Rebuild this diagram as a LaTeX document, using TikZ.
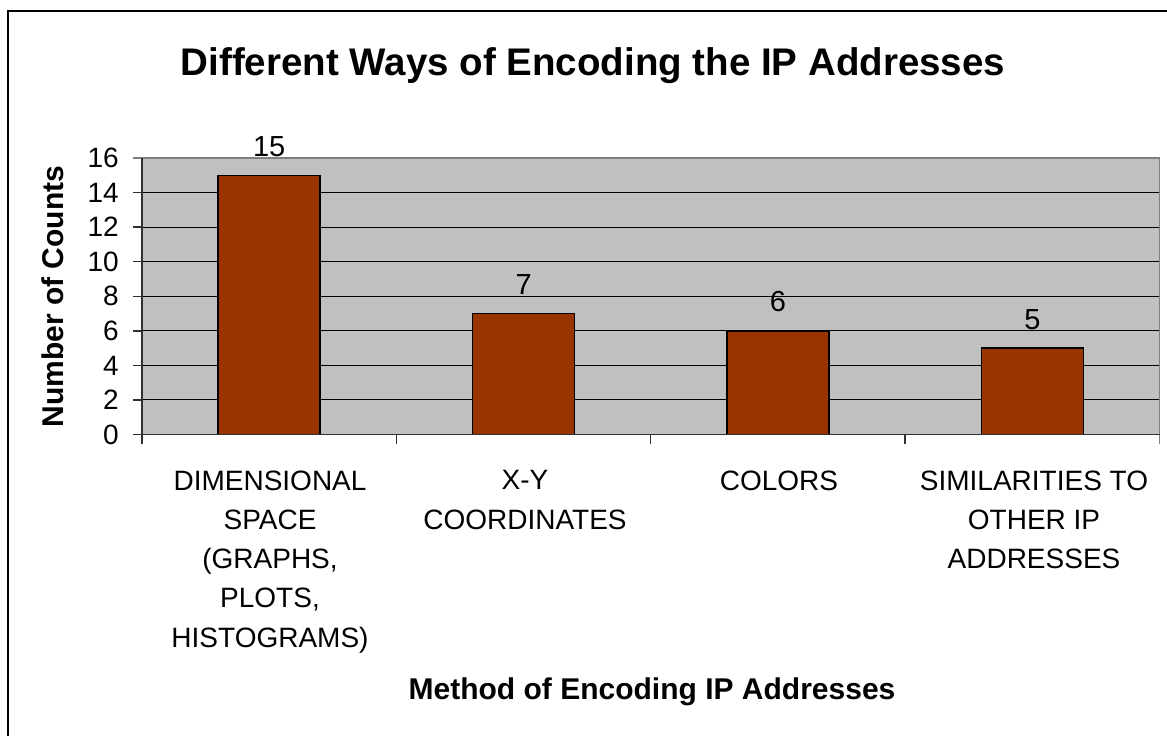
\documentclass[tikz,border=0pt]{standalone}
\usepackage{fontspec}
\setmainfont{Liberation Sans}
\definecolor{barfill}{HTML}{993300}
\definecolor{plotbg}{HTML}{C0C0C0}
\definecolor{plotframe}{HTML}{808080}
\definecolor{axisdark}{HTML}{303030}

\begin{document}
\begin{tikzpicture}[x=1pt,y=-1pt,
  gridline/.style={black,line width=1pt},
  axisline/.style={axisdark,line width=1.6pt},
  tickline/.style={axisdark,line width=1.4pt},
  bar/.style={fill=barfill,draw=black,line width=1.6pt},
  ticklabel/.style={anchor=east,inner sep=0pt,font=\fontsize{28}{32}\selectfont},
  valuelabel/.style={anchor=base,inner sep=0pt,font=\fontsize{29}{34}\selectfont},
  catlabel/.style={anchor=north,inner sep=0pt,align=center,font=\fontsize{28}{39.2}\selectfont},
  axistitle/.style={inner sep=0pt,font=\bfseries\fontsize{30}{36}\selectfont},
  charttitle/.style={anchor=base,inner sep=0pt,font=\bfseries\fontsize{38.5}{44}\selectfont}]
\useasboundingbox (0,0) rectangle (1167,736);
\clip (0,0) rectangle (1167,736);
\fill[white] (0,0) rectangle (1167,736);

% chart frame (runs past the right and lower edges)
\draw[black,line width=2pt] (7.5,11) rectangle (1200,770);

% plot area and horizontal gridlines
\fill[plotbg] (142,158) rectangle (1159.5,434.5);
\foreach \v in {2,4,...,14}
  \draw[gridline] (142,{434.5-\v*17.28}) -- (1159.5,{434.5-\v*17.28});
\draw[plotframe,line width=1.7pt] (133,158) -- (1159.5,158) -- (1159.5,444);

% value axis with ticks and labels
\foreach \v in {0,2,...,14}
  \draw[tickline] (133,{434.5-\v*17.28}) -- (142,{434.5-\v*17.28});
\foreach \v in {0,2,...,16}
  \node[ticklabel] (t\v) at (119,{434.5-\v*17.28}) {\v};

% bars
\foreach \i/\v in {0/15,1/7,2/6,3/5}{
  \pgfmathsetmacro{\cx}{142+(\i+0.5)*254.375}
  \pgfmathsetmacro{\bartop}{434.5-\v*17.28}
  \draw[bar] (\cx-51,434.5) rectangle (\cx+51,\bartop);
  \node[valuelabel] (v\i) at (\cx,\bartop-19) {\v};
}

% category axis with boundary ticks
\draw[axisline] (142,158) -- (142,444);
\draw[axisline] (133,434.5) -- (1159.5,434.5);
\foreach \i in {1,2,3}
  \draw[tickline] ({142+\i*254.375},434.5) -- ({142+\i*254.375},444);

% category labels
\node[catlabel] (c0) at (270,470.5) {DIMENSIONAL\\SPACE\\(GRAPHS,\\PLOTS,\\HISTOGRAMS)};
\node[catlabel] (c1) at (525,470.5) {X-Y\\COORDINATES};
\node[catlabel] (c2) at (779,470.5) {COLORS};
\node[catlabel] (c3) at (1034,470.5) {SIMILARITIES TO\\OTHER IP\\ADDRESSES};

% titles
\node[charttitle] (title) at (593,75) {Different Ways of Encoding the IP Addresses};
\node[axistitle,rotate=90] (ytitle) at (53,296.5) {Number of Counts};
\node[axistitle,anchor=base] (xtitle) at (652,699.5) {Method of Encoding IP Addresses};
\end{tikzpicture}
\end{document}
